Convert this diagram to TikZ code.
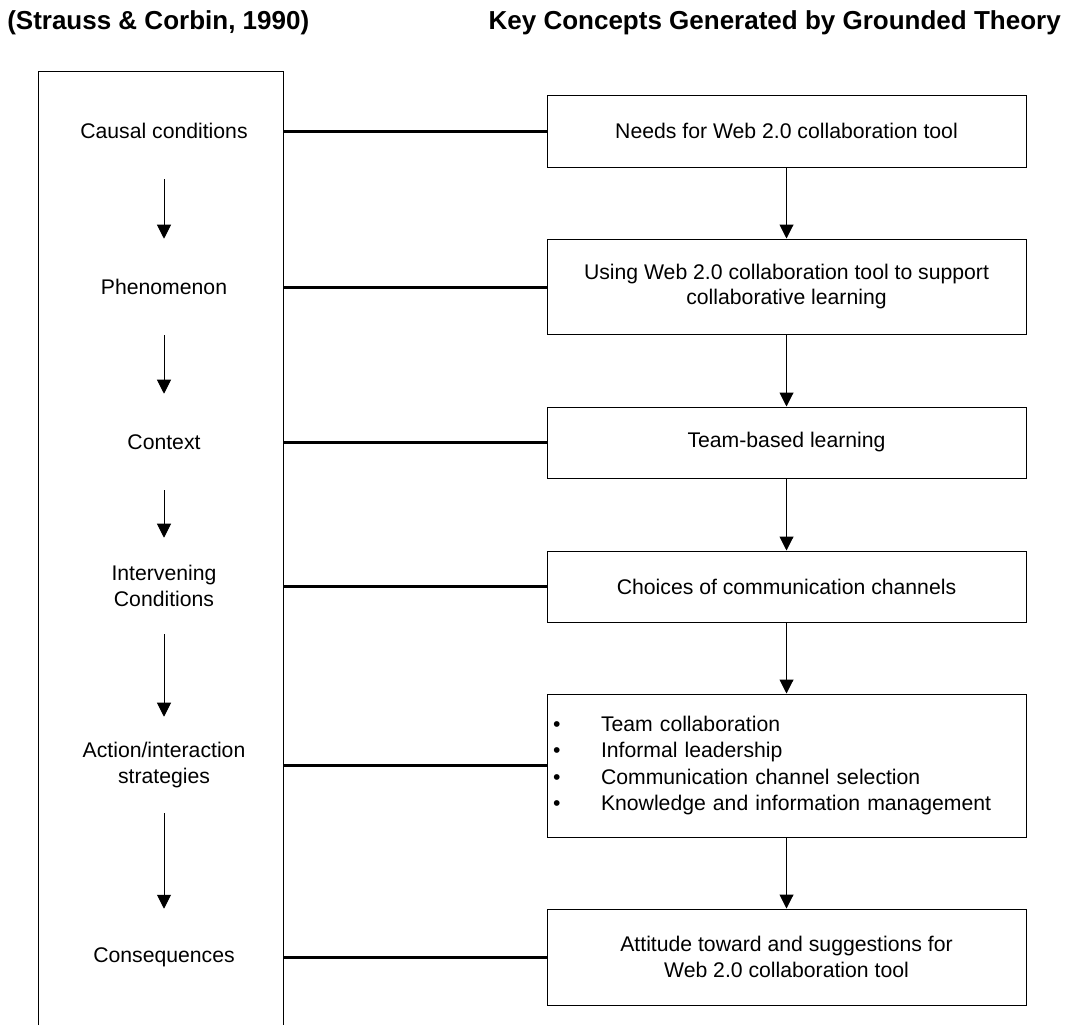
\documentclass[tikz,border=0pt]{standalone}
\usepackage{fontspec}
\setmainfont{Liberation Sans}
\usetikzlibrary{arrows.meta}

\tikzset{
  lbl/.style={minimum width=178.5pt,minimum height=72pt,inner sep=0pt,align=center,font=\fontsize{15.9pt}{19.1pt}\selectfont},
  kbox/.style={draw=black,line width=0.75pt,minimum width=359.25pt,inner sep=0pt,align=center,font=\fontsize{15.9pt}{19.1pt}\selectfont},
  ttl/.style={inner sep=0pt,font=\fontsize{19.5pt}{23pt}\selectfont\bfseries},
  arr/.style={line width=0.75pt,-{Triangle[length=10.5pt,width=10.5pt]}},
  link/.style={line width=2.25pt},
}
\newcommand{\kitem}[1]{\makebox[36pt][l]{\textbullet}#1}

\begin{document}
\begin{tikzpicture}[x=0.75pt,y=-0.75pt]

\useasboundingbox (0,0) rectangle (1073,1025);

\node[ttl,anchor=base west] (src) at (7,29) {(Strauss \& Corbin, 1990)};
\node[ttl,anchor=base east] (kc) at (1061,29) {Key Concepts Generated by Grounded Theory};

%paradigm
\path[draw=black,line width=0.75pt] (38,1025) -- (38,71) -- (283,71) -- (283,1025);

\node[lbl] (cc1) at (164,131) {Causal conditions};
\node[lbl] (cc2) at (164,287) {Phenomenon};
\node[lbl] (cc3) at (164,442) {Context};
\node[lbl] (cc4) at (164,586) {Intervening\\Conditions};
\node[lbl] (cc5) at (164,765) {Action/interaction\\strategies};
\node[lbl] (cc6) at (164,957) {Consequences};

\path[draw=black,arr] (cc1.south) -- (cc2.north);
\path[draw=black,arr] (cc2.south) -- (cc3.north);
\path[draw=black,arr] (cc3.south) -- (cc4.north);
\path[draw=black,arr] (cc4.south) -- (cc5.north);
\path[draw=black,arr] (cc5.south) -- (cc6.north);

%key concepts
\node[kbox,minimum height=54pt] (k1) at (786.5,131) {Needs for Web 2.0 collaboration tool};
\node[kbox,minimum height=71.25pt] (k2) at (786.5,286.5) {Using Web 2.0 collaboration tool to support\\collaborative learning};
\node[kbox,minimum height=53.25pt] (k3) at (786.5,442.5) {Team-based learning};
\node[kbox,minimum height=53.25pt] (k4) at (786.5,586.5) {Choices of communication channels};
\node[kbox,minimum height=107.25pt,inner xsep=4.5pt,text width=350.25pt,align=left,font=\fontsize{15.9pt}{19.7pt}\selectfont] (k5) at (786.5,765.5)
  {\kitem{Team collaboration}\\\kitem{Informal leadership}\\\kitem{Communication channel selection}\\\kitem{Knowledge and information management}};
\node[kbox,minimum height=72pt] (k6) at (786.5,957) {Attitude toward and suggestions for\\Web 2.0 collaboration tool};

\path[draw=black,arr] (k1.south) -- (k2.north);
\path[draw=black,arr] (k2.south) -- (k3.north);
\path[draw=black,arr] (k3.south) -- (k4.north);
\path[draw=black,arr] (k4.south) -- (k5.north);
\path[draw=black,arr] (k5.south) -- (k6.north);

%links
\path[draw=black,link] (cc1.east) -- (cc1.east -| k1.west);
\path[draw=black,link] (cc2.east) -- (cc2.east -| k2.west);
\path[draw=black,link] (cc3.east) -- (cc3.east -| k3.west);
\path[draw=black,link] (cc4.east) -- (cc4.east -| k4.west);
\path[draw=black,link] (cc5.east) -- (cc5.east -| k5.west);
\path[draw=black,link] (cc6.east) -- (cc6.east -| k6.west);

\end{tikzpicture}
\end{document}
